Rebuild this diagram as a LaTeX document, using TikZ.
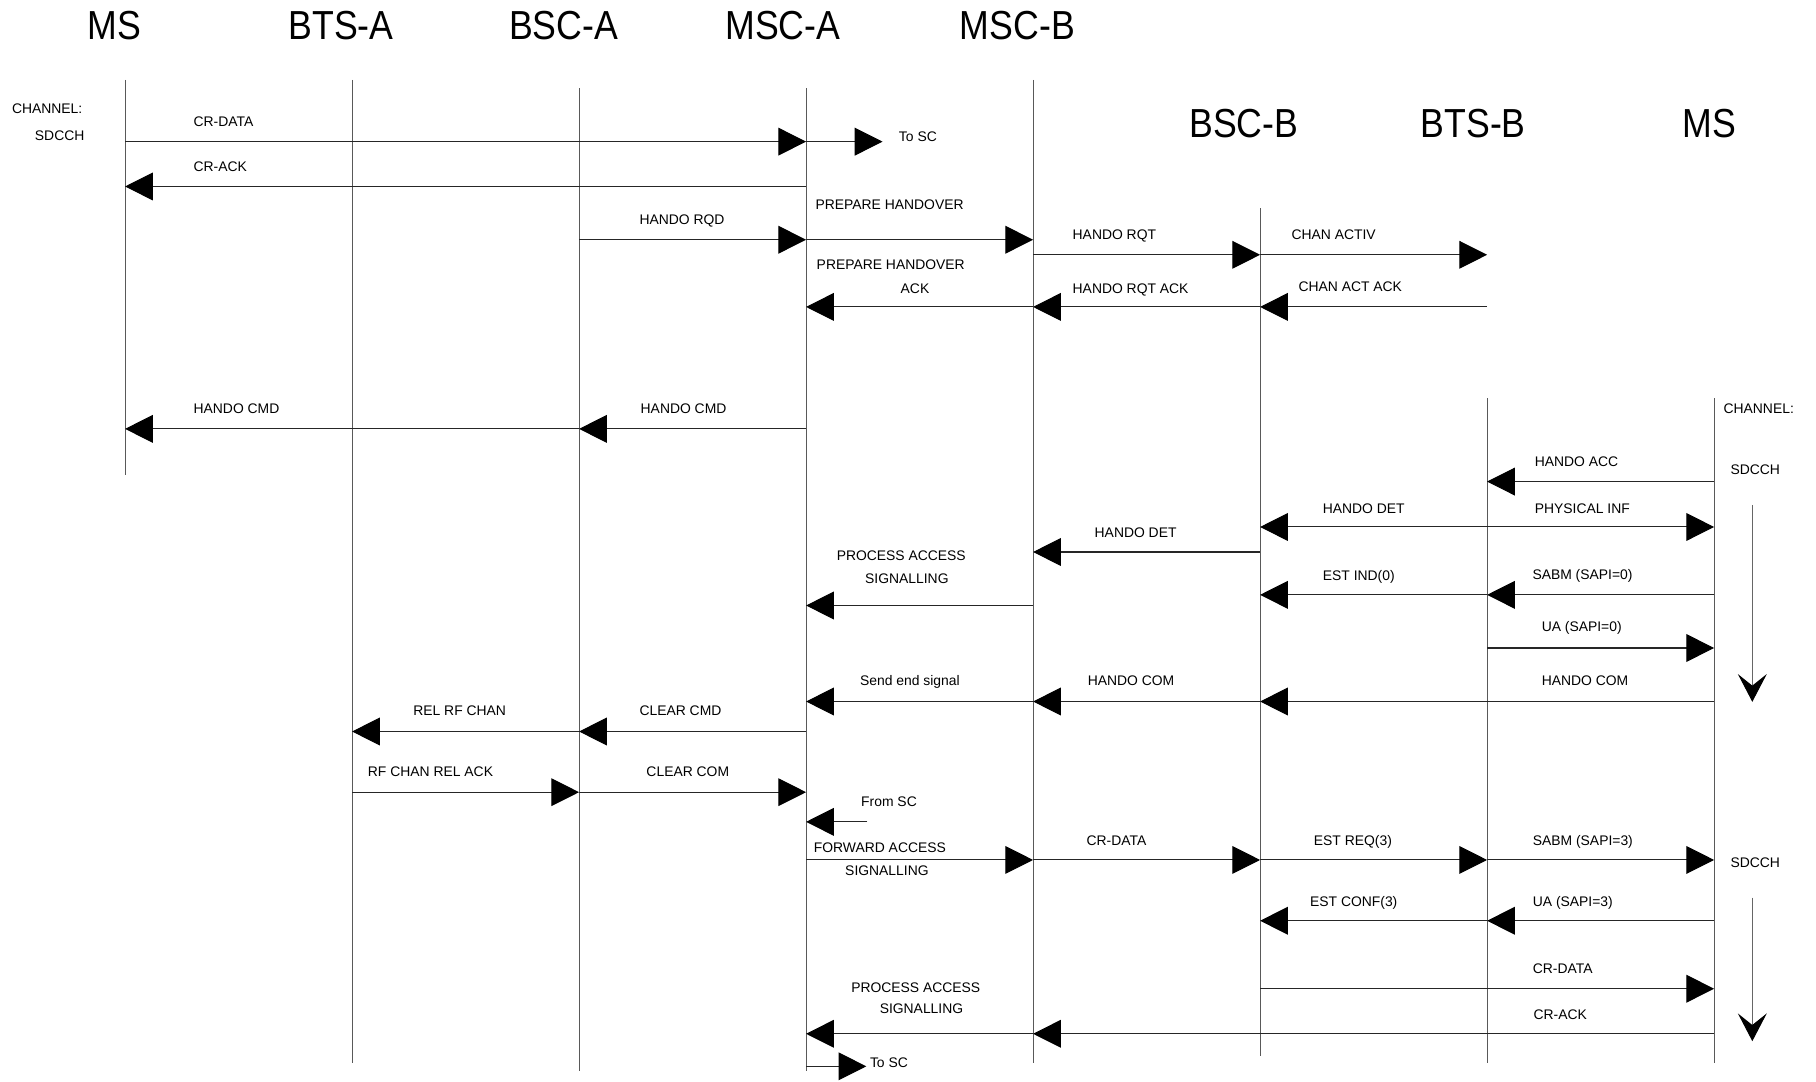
\documentclass[tikz,border=0pt]{standalone}
\usepackage{fontspec}
\setmainfont{Liberation Sans}
\newfontfamily\headfont{Liberation Sans}[FakeStretch=0.88]
\usetikzlibrary{arrows.meta}

\begin{document}
\begin{tikzpicture}[
                x=1pt,
                y=-1pt,
                >={Triangle[length=24pt,width=24pt,color=black]},
                lifeline/.style={line width=0.9pt, black!65},
                msg/.style={line width=0.9pt, black!85, ->},
                flow/.style={line width=0.9pt, black!60, -{Stealth[length=24pt,width=25pt,inset=10pt,color=black]}},
                lbl/.style={anchor=base west, inner sep=0pt, font=\fontsize{12}{14}\selectfont},
                head/.style={anchor=base, inner sep=0pt, font=\headfont\fontsize{35}{40}\selectfont}
            ]

            \useasboundingbox (0,0) rectangle (1568,934);

            % entities
            \node[head] (h_ms_a) at (98.6,33.7) {MS};
            \node[head] (h_bts_a) at (294.5,33.7) {BTS-A};
            \node[head] (h_bsc_a) at (486.6,33.7) {BSC-A};
            \node[head] (h_msc_a) at (676,33.7) {MSC-A};
            \node[head] (h_msc_b) at (878.5,33.7) {MSC-B};
            \node[head] (h_bsc_b) at (1074,119) {BSC-B};
            \node[head] (h_bts_b) at (1272,119) {BTS-B};
            \node[head] (h_ms_b) at (1476,119) {MS};

            % lifelines
            \coordinate (ms_a) at (108,69);   \coordinate (ms_a_end) at (108,410);
            \coordinate (bts_a) at (304,69);  \coordinate (bts_a_end) at (304,918);
            \coordinate (bsc_a) at (500,76);  \coordinate (bsc_a_end) at (500,925);
            \coordinate (msc_a) at (696,76);  \coordinate (msc_a_end) at (696,925);
            \coordinate (msc_b) at (892,69);  \coordinate (msc_b_end) at (892,918);
            \coordinate (bsc_b) at (1088,180); \coordinate (bsc_b_end) at (1088,912);
            \coordinate (bts_b) at (1284,344); \coordinate (bts_b_end) at (1284,918);
            \coordinate (ms_b) at (1480,344); \coordinate (ms_b_end) at (1480,918);

            \draw[lifeline] (ms_a) -- (ms_a_end);
            \draw[lifeline] (bts_a) -- (bts_a_end);
            \draw[lifeline] (bsc_a) -- (bsc_a_end);
            \draw[lifeline] (msc_a) -- (msc_a_end);
            \draw[lifeline] (msc_b) -- (msc_b_end);
            \draw[lifeline] (bsc_b) -- (bsc_b_end);
            \draw[lifeline] (bts_b) -- (bts_b_end);
            \draw[lifeline] (ms_b) -- (ms_b_end);

            % message rows
            \coordinate (r1) at (0,122.3);
            \coordinate (r2) at (0,161);
            \coordinate (r3) at (0,207);
            \coordinate (r4) at (0,220);
            \coordinate (r5) at (0,265);
            \coordinate (r6) at (0,370.3);
            \coordinate (r7) at (0,415.8);
            \coordinate (r8) at (0,455);
            \coordinate (r9) at (0,476.6);
            \coordinate (r10) at (0,513.6);
            \coordinate (r11) at (0,522.8);
            \coordinate (r12) at (0,559.5);
            \coordinate (r13) at (0,605.7);
            \coordinate (r14) at (0,631.6);
            \coordinate (r15) at (0,684);
            \coordinate (r16) at (0,709.6);
            \coordinate (r17) at (0,742.5);
            \coordinate (r18) at (0,795);
            \coordinate (r19) at (0,853.7);
            \coordinate (r20) at (0,892.6);
            \coordinate (r21) at (0,920.7);

            \coordinate (to_sc) at (762,122.3);
            \coordinate (from_sc) at (749,709.6);
            \coordinate (to_sc_low) at (748,920.7);

            % channel labels
            \node[lbl] (ch_a) at (10.2,97.8) {CHANNEL:};
            \node[lbl] (sd_a) at (30,120.9) {SDCCH};
            \node[lbl] (ch_b) at (1488,356.6) {CHANNEL:};
            \node[lbl] (sd_b) at (1494,410) {SDCCH};
            \node[lbl] (sd_c) at (1494,749.3) {SDCCH};

            % messages
            \draw[msg] (ms_a |- r1) -- (msc_a |- r1);
            \draw[msg] (msc_a |- r1) -- (to_sc);
            \node[lbl] (m_cr_data) at (167,109.5) {CR-DATA};
            \node[lbl] (m_to_sc) at (776,122) {To SC};

            \draw[msg] (msc_a |- r2) -- (ms_a |- r2);
            \node[lbl] (m_cr_ack) at (167,148.2) {CR-ACK};

            \draw[msg] (bsc_a |- r3) -- (msc_a |- r3);
            \draw[msg] (msc_a |- r3) -- (msc_b |- r3);
            \node[lbl] (m_ho_rqd) at (552,194.2) {HANDO RQD};
            \node[lbl] (m_prep) at (704,181.3) {PREPARE HANDOVER};

            \draw[msg] (msc_b |- r4) -- (bsc_b |- r4);
            \draw[msg] (bsc_b |- r4) -- (bts_b |- r4);
            \node[lbl] (m_ho_rqt) at (926,207.2) {HANDO RQT};
            \node[lbl] (m_chan_activ) at (1115,207.2) {CHAN ACTIV};

            \draw[msg] (bts_b |- r5) -- (bsc_b |- r5);
            \draw[msg] (bsc_b |- r5) -- (msc_b |- r5);
            \draw[msg] (msc_b |- r5) -- (msc_a |- r5);
            \node[lbl] (m_prep_ack) at (705,233) {PREPARE HANDOVER};
            \node[lbl] (m_prep_ack2) at (777.5,253.2) {ACK};
            \node[lbl] (m_ho_rqt_ack) at (926,253.2) {HANDO RQT ACK};
            \node[lbl] (m_chan_ack) at (1121,252) {CHAN ACT ACK};

            \draw[msg] (msc_a |- r6) -- (bsc_a |- r6);
            \draw[msg] (bsc_a |- r6) -- (ms_a |- r6);
            \node[lbl] (m_ho_cmd_a) at (167,357.4) {HANDO CMD};
            \node[lbl] (m_ho_cmd_b) at (553,357.4) {HANDO CMD};

            \draw[msg] (ms_b |- r7) -- (bts_b |- r7);
            \node[lbl] (m_ho_acc) at (1325,403.2) {HANDO ACC};

            \draw[msg] (bts_b |- r8) -- (bsc_b |- r8);
            \draw[msg] (bts_b |- r8) -- (ms_b |- r8);
            \node[lbl] (m_ho_det_b) at (1142,443) {HANDO DET};
            \node[lbl] (m_phys) at (1325,443) {PHYSICAL INF};

            \draw[msg] (bsc_b |- r9) -- (msc_b |- r9);
            \node[lbl] (m_ho_det_a) at (945,464.5) {HANDO DET};

            \draw[msg] (ms_b |- r10) -- (bts_b |- r10);
            \draw[msg] (bts_b |- r10) -- (bsc_b |- r10);
            \node[lbl] (m_est_ind) at (1142,501.5) {EST IND(0)};
            \node[lbl] (m_sabm0) at (1323,500.7) {SABM (SAPI=0)};

            \draw[msg] (msc_b |- r11) -- (msc_a |- r11);
            \node[lbl] (m_proc) at (722.3,484.3) {PROCESS ACCESS};
            \node[lbl] (m_proc2) at (746.8,504.1) {SIGNALLING};

            \draw[msg] (bts_b |- r12) -- (ms_b |- r12);
            \node[lbl] (m_ua0) at (1331,545.5) {UA (SAPI=0)};

            \draw[msg] (ms_b |- r13) -- (bsc_b |- r13);
            \draw[msg] (bsc_b |- r13) -- (msc_b |- r13);
            \draw[msg] (msc_b |- r13) -- (msc_a |- r13);
            \node[lbl] (m_send_end) at (742.4,592.2) {Send end signal};
            \node[lbl] (m_ho_com_a) at (939,592.2) {HANDO COM};
            \node[lbl] (m_ho_com_b) at (1331,592.2) {HANDO COM};

            \draw[msg] (msc_a |- r14) -- (bsc_a |- r14);
            \draw[msg] (bsc_a |- r14) -- (bts_a |- r14);
            \node[lbl] (m_rel_rf) at (356.7,618) {REL RF CHAN};
            \node[lbl] (m_clear_cmd) at (552,618) {CLEAR CMD};

            \draw[msg] (bts_a |- r15) -- (bsc_a |- r15);
            \draw[msg] (bsc_a |- r15) -- (msc_a |- r15);
            \node[lbl] (m_rf_rel_ack) at (317.5,670.4) {RF CHAN REL ACK};
            \node[lbl] (m_clear_com) at (558,670.4) {CLEAR COM};

            \draw[msg] (from_sc) -- (msc_a |- r16);
            \node[lbl] (m_from_sc) at (743.4,696.7) {From SC};

            \draw[msg] (msc_a |- r17) -- (msc_b |- r17);
            \draw[msg] (msc_b |- r17) -- (bsc_b |- r17);
            \draw[msg] (bsc_b |- r17) -- (bts_b |- r17);
            \draw[msg] (bts_b |- r17) -- (ms_b |- r17);
            \node[lbl] (m_fwd) at (702.5,736.5) {FORWARD ACCESS};
            \node[lbl] (m_fwd2) at (729.6,756.2) {SIGNALLING};
            \node[lbl] (m_cr_data_b) at (938,730) {CR-DATA};
            \node[lbl] (m_est_req) at (1134.3,730) {EST REQ(3)};
            \node[lbl] (m_sabm3) at (1323.3,730) {SABM (SAPI=3)};

            \draw[msg] (ms_b |- r18) -- (bts_b |- r18);
            \draw[msg] (bts_b |- r18) -- (bsc_b |- r18);
            \node[lbl] (m_est_conf) at (1131,782.6) {EST CONF(3)};
            \node[lbl] (m_ua3) at (1323.3,782.6) {UA (SAPI=3)};

            \draw[msg] (bsc_b |- r19) -- (ms_b |- r19);
            \node[lbl] (m_cr_data_c) at (1323.3,840.8) {CR-DATA};

            \draw[msg] (ms_b |- r20) -- (msc_b |- r20);
            \draw[msg] (msc_b |- r20) -- (msc_a |- r20);
            \node[lbl] (m_proc_b) at (734.8,856.6) {PROCESS ACCESS};
            \node[lbl] (m_proc_b2) at (759.4,875.4) {SIGNALLING};
            \node[lbl] (m_cr_ack_b) at (1324,880.5) {CR-ACK};

            \draw[msg] (msc_a |- r21) -- (to_sc_low);
            \node[lbl] (m_to_sc_b) at (751,921.6) {To SC};

            % time flow on the new channel
            \coordinate (t1) at (1513,436);  \coordinate (t1_end) at (1513,606);
            \coordinate (t2) at (1513,775);  \coordinate (t2_end) at (1513,899);
            \draw[flow] (t1) -- (t1_end);
            \draw[flow] (t2) -- (t2_end);

            \end{tikzpicture}
\end{document}
